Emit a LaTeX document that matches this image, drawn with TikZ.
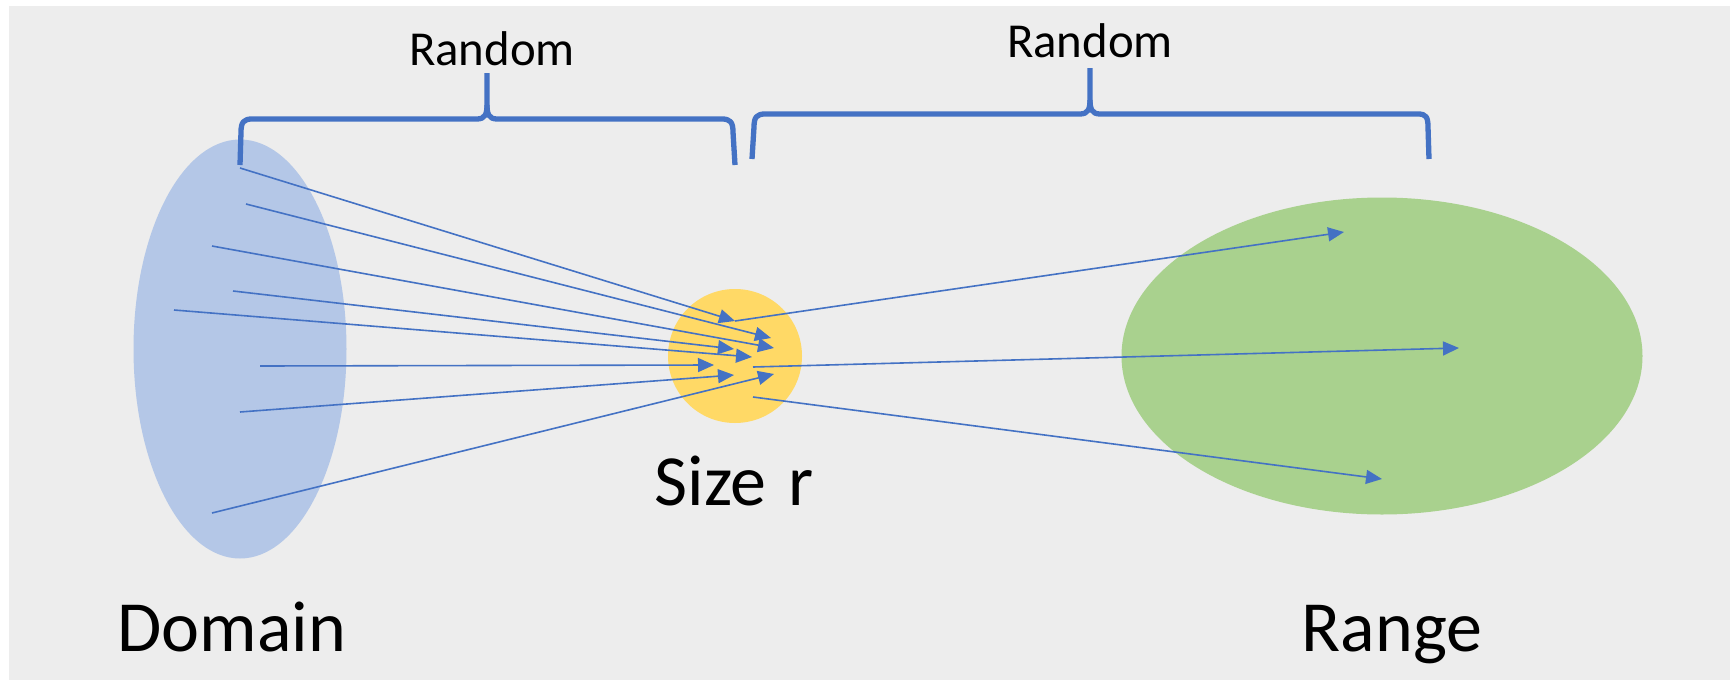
\documentclass[tikz,border=0pt]{standalone}
\usepackage{fontspec}
\setmainfont{Carlito}
\usepackage{tikz}
\usetikzlibrary{arrows.meta,shapes.geometric}

\definecolor{bggray}{HTML}{EDEDED}
\definecolor{domainblue}{HTML}{B4C7E7}
\definecolor{coreyellow}{HTML}{FFD966}
\definecolor{rangegreen}{HTML}{A9D18E}
\definecolor{setblue}{HTML}{4472C4}

\begin{document}
\begin{tikzpicture}[x=0.5pt,y=-0.5pt,
    bracepath/.style={draw=setblue,line width=2.65pt,line join=round},
    maparrow/.style={draw=setblue,line width=0.8pt,-{Triangle[length=8pt,width=7pt]}},
    setname/.style={font=\fontsize{36}{43}\selectfont,anchor=base},
    bracename/.style={font=\fontsize{24.4}{29}\selectfont,anchor=base}]
    \useasboundingbox (0,0) rectangle (1730,680);
    \fill[bggray] (9,6) rectangle (1730,680);
    % the three sets
    \node[ellipse,fill=domainblue,inner sep=0pt,minimum width=106.5pt,minimum height=209.5pt] (domain) at (240,349) {};
    \node[circle,fill=coreyellow,inner sep=0pt,minimum size=67pt] (core) at (735,356) {};
    \node[ellipse,fill=rangegreen,inner sep=0pt,minimum width=260.5pt,minimum height=158.5pt] (range) at (1382,356) {};
    \node[setname] (domlabel) at (232,651) {Domain};
    \node[setname] (rangelabel) at (1392,651) {Range};
    \node[setname] (sizelabel) at (734,505) {Size\hspace{0.3em}r};
    % braces
    \draw[bracepath] (240,165) -- (241,132) .. controls (241,122) and (244,119) .. (252,119)
        -- (477,119) .. controls (485,119) and (487,114) .. (487,105) -- (487,73);
    \draw[bracepath] (487,105) .. controls (487,114) and (489,119) .. (497,119)
        -- (722,119) .. controls (730,119) and (733,122) .. (733,132) -- (735,165);
    \draw[bracepath] (752,159) -- (754,127) .. controls (754,117) and (757,114) .. (765,114)
        -- (1080,114) .. controls (1088,114) and (1090,109) .. (1090,100) -- (1090,68);
    \draw[bracepath] (1090,100) .. controls (1090,109) and (1092,114) .. (1100,114)
        -- (1418,114) .. controls (1426,114) and (1428,117) .. (1428,127) -- (1429,159);
    \node[bracename] (randleft) at (492,65) {Random};
    \node[bracename] (randright) at (1090,57) {Random};
    % domain -> core
    \coordinate (s1) at (240,168);
    \coordinate (s2) at (246,204);
    \coordinate (s3) at (212,246);
    \coordinate (s4) at (233,291);
    \coordinate (s5) at (174,310);
    \coordinate (s6) at (260,366);
    \coordinate (s7) at (240,412);
    \coordinate (s8) at (212,513);
    \coordinate (t1) at (735,321);
    \coordinate (t2) at (771,338);
    \coordinate (t3) at (774,348);
    \coordinate (t4) at (734,349);
    \coordinate (t5) at (752,357);
    \coordinate (t6) at (714,365);
    \coordinate (t7) at (734,375);
    \coordinate (t8) at (774,374);
    \foreach \i in {1,...,8}
        \draw[maparrow] (s\i) -- (t\i);
    % core -> range
    \coordinate (u1) at (735,321);
    \coordinate (u2) at (753,367);
    \coordinate (u3) at (753,397);
    \coordinate (v1) at (1344,232);
    \coordinate (v2) at (1459,348);
    \coordinate (v3) at (1382,479);
    \foreach \i in {1,2,3}
        \draw[maparrow] (u\i) -- (v\i);
\end{tikzpicture}
\end{document}
